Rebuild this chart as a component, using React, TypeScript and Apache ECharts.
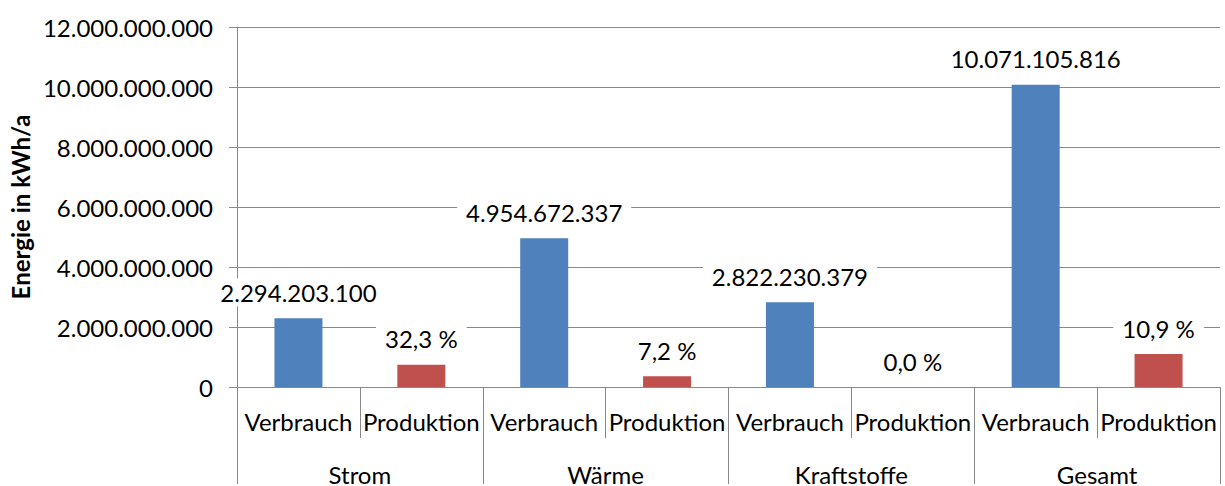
import React, { useEffect, useRef } from "react";
import * as echarts from "echarts";

const subCategories = ["Verbrauch", "Produktion", "Verbrauch", "Produktion", "Verbrauch", "Produktion", "Verbrauch", "Produktion"];
const groupCategories = ["Strom", "Wärme", "Kraftstoffe", "Gesamt"];
const verbrauchValues = [2294203100, 4954672337, 2822230379, 10071105816];
const produktionValues = [741000000, 357000000, 0, 1098000000];
const produktionLabels = ["32,3 %", "7,2 %", "0,0 %", "10,9 %"];
const yTicks = [0, 2000000000, 4000000000, 6000000000, 8000000000, 10000000000, 12000000000];

const fmt = (v: number) => String(Math.round(v)).replace(/\B(?=(\d{3})+(?!\d))/g, ".");

export default function App() {
  const ref = useRef<HTMLDivElement>(null);
  useEffect(() => {
    const chart = echarts.init(ref.current!, null, { renderer: "svg" });
    const font = "Lato";
    const grey = "#898989";
    const vData: any[] = [];
    const pData: any[] = [];
    verbrauchValues.forEach((v, i) => {
      vData.push(v, "-");
      pData.push("-", { value: produktionValues[i], label: { formatter: produktionLabels[i] } });
    });
    const labelStyle = {
      show: true,
      position: "top",
      distance: 12,
      color: "#000",
      fontFamily: font,
      fontSize: 24,
      backgroundColor: "#fff",
      padding: [2, 9],
    };
    chart.setOption({
      animation: false,
      backgroundColor: "#fff",
      textStyle: { fontFamily: font },
      grid: { left: 236, right: 5, top: 27, bottom: 97, containLabel: false },
      xAxis: [
        {
          type: "category",
          data: subCategories,
          position: "bottom",
          axisLine: { show: true, lineStyle: { color: grey, width: 1 } },
          axisTick: { show: true, length: 51, interval: 0, lineStyle: { color: grey } },
          axisLabel: { interval: 0, margin: 22, color: "#000", fontFamily: font, fontSize: 24 },
        },
        {
          type: "category",
          data: groupCategories,
          position: "bottom",
          axisLine: { show: false },
          axisTick: { show: true, length: 97, interval: 0, lineStyle: { color: grey } },
          axisLabel: { interval: 0, margin: 75, color: "#000", fontFamily: font, fontSize: 24 },
        },
      ],
      yAxis: {
        type: "value",
        min: yTicks[0],
        max: yTicks[yTicks.length - 1],
        interval: yTicks[1] - yTicks[0],
        name: "Energie in kWh/a",
        nameLocation: "middle",
        nameGap: 200,
        nameTextStyle: { fontFamily: font, fontSize: 24, fontWeight: "bold", color: "#000" },
        axisLine: { show: true, lineStyle: { color: grey } },
        axisTick: { show: true, length: 8, lineStyle: { color: grey } },
        splitLine: { show: true, lineStyle: { color: grey, width: 1 } },
        axisLabel: { margin: 24, color: "#000", fontFamily: font, fontSize: 24, formatter: (v: number) => fmt(v) },
      },
      series: [
        {
          type: "bar",
          name: "Verbrauch",
          data: vData,
          barWidth: 48,
          barGap: "-100%",
          itemStyle: { color: "#4F81BD" },
          label: { ...labelStyle, formatter: (p: any) => fmt(p.value) },
        },
        {
          type: "bar",
          name: "Produktion",
          data: pData,
          barWidth: 48,
          barGap: "-100%",
          itemStyle: { color: "#C0504D" },
          label: { ...labelStyle },
        },
      ],
    });
    return () => chart.dispose();
  }, []);
  return <div ref={ref} style={{ position: "absolute", left: 0, top: 0, width: 1225, height: 486 }} />;
}
